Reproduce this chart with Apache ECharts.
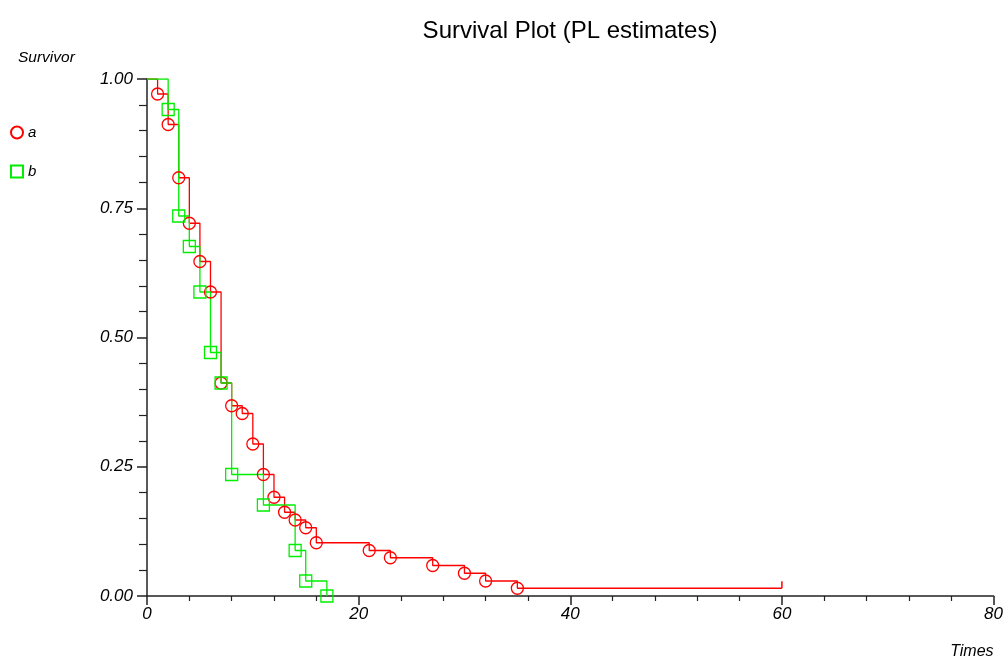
<!DOCTYPE html>
<html>
<head>
<meta charset="utf-8">
<title>Survival Plot</title>
<script src="https://cdn.jsdelivr.net/npm/echarts@6/dist/echarts.min.js"></script>
<style>
  html, body { margin: 0; padding: 0; background: #fff; }
  #main { width: 1006px; height: 661px; }
</style>
</head>
<body>
<div id="main"></div>
<script>
// group a (red circles), event times and PL survival estimates
var timesA = [1, 2, 3, 4, 5, 6, 7, 8, 9, 10, 11, 12, 13, 14, 15, 16, 21, 23, 27, 30, 32, 35];
var survA = [0.971, 0.912, 0.809, 0.721, 0.647, 0.588, 0.412, 0.368, 0.353, 0.294, 0.235,
             0.191, 0.162, 0.147, 0.132, 0.103, 0.088, 0.074, 0.059, 0.044, 0.029, 0.015];
var censorA = 60;   // last follow-up (censored)

// group b (green squares)
var timesB = [2, 3, 4, 5, 6, 7, 8, 11, 14, 15, 17];
var survB = [0.941, 0.735, 0.676, 0.588, 0.471, 0.412, 0.235, 0.176, 0.088, 0.029, 0.0];

var xTicks = [0, 20, 40, 60, 80];
var yTicks = [0, 0.25, 0.5, 0.75, 1];

var font = 'Liberation Sans, Arial, sans-serif';

function stepData(times, surv, color, endTime) {
    var d = [{ value: [0, 1], symbol: 'none' }];
    for (var i = 0; i < times.length; i++) {
        d.push([times[i], surv[i]]);
    }
    if (endTime != null) {
        d.push({
            value: [endTime, surv[surv.length - 1]],
            symbol: 'rect',
            symbolSize: [1.5, 7],
            symbolOffset: [0, -3.5],
            itemStyle: { color: color, borderWidth: 0 }
        });
    }
    return d;
}

(function(){

    var chart = echarts.init(document.getElementById('main'));

    option = {
        animation: false,
        title: {
            text: 'Survival Plot (PL estimates)',
            left: 565,
            top: 14,
            textAlign: 'center',
            textStyle: { fontFamily: font, fontSize: 24, fontWeight: 'normal', color: '#000' }
        },
        legend: {
            orient: 'vertical',
            left: 5,
            top: 120,
            itemWidth: 12,
            itemHeight: 12,
            itemGap: 24,
            textStyle: { fontFamily: font, fontSize: 15, fontStyle: 'italic', color: '#000' },
            data: [
                { name: 'a', icon: 'circle' },
                { name: 'b', icon: 'rect' }
            ]
        },
        grid: { left: 147, right: 11, top: 79, bottom: 65 },
        xAxis: {
            type: 'value',
            min: 0,
            max: 80,
            interval: 20,
            name: 'Times',
            nameLocation: 'end',
            nameGap: 0,
            nameTextStyle: {
                fontFamily: font, fontSize: 16, fontStyle: 'italic', color: '#000',
                align: 'right', verticalAlign: 'top', padding: [48, 0, 0, 0]
            },
            axisLine: { lineStyle: { color: '#222', width: 1.5 } },
            axisTick: { length: 9, lineStyle: { color: '#222', width: 1.5 } },
            minorTick: { show: true, splitNumber: 5, length: 5, lineStyle: { color: '#222', width: 1.2 } },
            splitLine: { show: false },
            axisLabel: {
                margin: 10,
                fontFamily: font, fontSize: 17, fontStyle: 'italic', color: '#000'
            }
        },
        yAxis: {
            type: 'value',
            min: 0,
            max: 1,
            interval: 0.25,
            name: 'Survivor',
            nameLocation: 'end',
            nameGap: 0,
            nameTextStyle: {
                fontFamily: font, fontSize: 15.5, fontStyle: 'italic', color: '#000',
                align: 'left', verticalAlign: 'bottom', padding: [0, 0, 13, -129]
            },
            axisLine: { show: true, lineStyle: { color: '#222', width: 1.5 } },
            axisTick: { show: true, length: 10, lineStyle: { color: '#222', width: 1.5 } },
            minorTick: { show: true, splitNumber: 5, length: 8, lineStyle: { color: '#222', width: 1.2 } },
            splitLine: { show: false },
            axisLabel: {
                margin: 14,
                fontFamily: font, fontSize: 17, fontStyle: 'italic', color: '#000',
                formatter: function (v) { return v.toFixed(2); }
            }
        },
        series: [
            {
                name: 'a',
                type: 'line',
                step: 'end',
                symbol: 'circle',
                symbolSize: 12,
                showAllSymbol: true,
                lineStyle: { color: '#ff0000', width: 1.3 },
                itemStyle: { color: 'rgba(255,255,255,0)', borderColor: '#ff0000', borderWidth: 1.3 },
                emphasis: { disabled: true },
                data: stepData(timesA, survA, '#ff0000', censorA)
            },
            {
                name: 'b',
                type: 'line',
                step: 'end',
                symbol: 'rect',
                symbolSize: 12,
                showAllSymbol: true,
                lineStyle: { color: '#00ee00', width: 1.3 },
                itemStyle: { color: 'rgba(255,255,255,0)', borderColor: '#00ee00', borderWidth: 1.3 },
                emphasis: { disabled: true },
                data: stepData(timesB, survB, '#00ee00', null)
            }
        ]
    };

    chart.setOption(option);
})();
</script>
</body>
</html>
